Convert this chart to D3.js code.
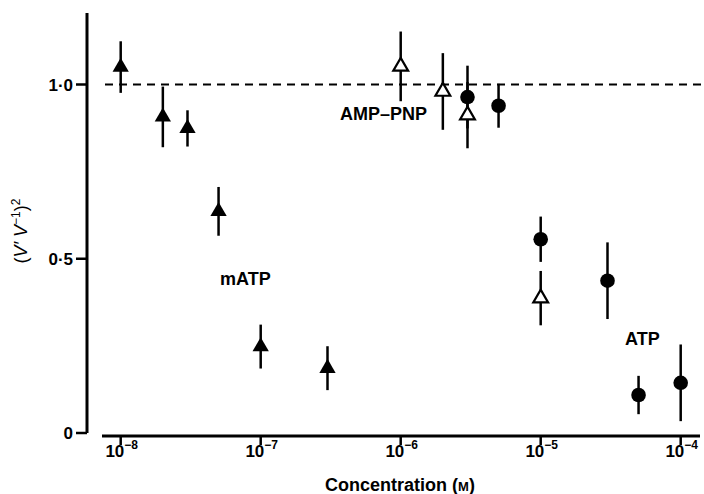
<!DOCTYPE html>
<html>
<head>
<meta charset="utf-8">
<script src="https://cdn.jsdelivr.net/npm/d3@7"></script>
<style>
  body { margin: 0; background: #fff; }
  text { font-family: "Liberation Sans", Arial, sans-serif; fill: #000; }
</style>
</head>
<body>
<div id="chart"></div>
<script>
// mATP (filled triangles)
const mATPConc = [1e-8, 2e-8, 3e-8, 5e-8, 1e-7, 3e-7];
const mATPValue = [1.05, 0.907, 0.874, 0.636, 0.248, 0.186];
const mATPErr = [0.074, 0.087, 0.052, 0.07, 0.063, 0.063];

// AMP-PNP (open triangles)
const ampConc = [1e-6, 2e-6, 3e-6, 1e-5];
const ampValue = [1.052, 0.98, 0.912, 0.387];
const ampErr = [0.1, 0.11, 0.095, 0.078];

// ATP (filled circles)
const atpConc = [3e-6, 5e-6, 1e-5, 3e-5, 5e-5, 1e-4];
const atpValue = [0.964, 0.939, 0.556, 0.437, 0.109, 0.144];
const atpErr = [0.09, 0.063, 0.065, 0.11, 0.055, 0.11];

const xTicks = [1e-8, 1e-7, 1e-6, 1e-5, 1e-4];
const xTickExp = ["−8", "−7", "−6", "−5", "−4"];
const yTicks = [0, 0.5, 1.0];
const yTickLabels = ["0", "0·5", "1·0"];

const width = 704, height = 494;
const svg = d3.select("#chart").append("svg")
  .attr("width", width).attr("height", height);

const x = d3.scaleLog().domain([1e-8, 1e-4]).range([120.7, 680.7]);
const y = d3.scaleLinear().domain([0, 1]).range([433, 84.5]);

// y axis
const yAxisX = 87;
svg.append("line")
  .attr("x1", yAxisX).attr("x2", yAxisX)
  .attr("y1", 13).attr("y2", y(0))
  .attr("stroke", "#000").attr("stroke-width", 3);
yTicks.forEach((t, i) => {
  svg.append("line")
    .attr("x1", yAxisX - 11).attr("x2", yAxisX)
    .attr("y1", y(t)).attr("y2", y(t))
    .attr("stroke", "#000").attr("stroke-width", 2.5);
  svg.append("text")
    .attr("x", yAxisX - 14).attr("y", y(t) + 6)
    .attr("text-anchor", "end")
    .attr("font-size", 17).attr("font-weight", "bold")
    .text(yTickLabels[i]);
});

// x axis
const xAxisY = 436;
svg.append("line")
  .attr("x1", 102).attr("x2", 700)
  .attr("y1", xAxisY).attr("y2", xAxisY)
  .attr("stroke", "#000").attr("stroke-width", 3);
xTicks.forEach((t, i) => {
  svg.append("line")
    .attr("x1", x(t)).attr("x2", x(t))
    .attr("y1", xAxisY).attr("y2", xAxisY + 9)
    .attr("stroke", "#000").attr("stroke-width", 2.5);
  const lab = svg.append("text")
    .attr("x", x(t) + 1).attr("y", xAxisY + 21)
    .attr("text-anchor", "middle")
    .attr("font-size", 17).attr("font-weight", "bold");
  lab.append("tspan").text("10");
  lab.append("tspan").attr("dy", -8).attr("font-size", 12).text(xTickExp[i]);
});

// axis titles
const xt = svg.append("text")
  .attr("x", 400).attr("y", 491)
  .attr("text-anchor", "middle")
  .attr("font-size", 18).attr("font-weight", "bold");
xt.append("tspan").text("Concentration (");
xt.append("tspan").attr("font-size", 13).text("M");
xt.append("tspan").text(")");

const yt = svg.append("text")
  .attr("transform", "translate(27,231) rotate(-90)")
  .attr("text-anchor", "middle")
  .attr("font-size", 18);
yt.append("tspan").text("(");
yt.append("tspan").attr("font-style", "italic").text("V′ V");
yt.append("tspan").attr("dy", -7).attr("font-size", 12).text("−1");
yt.append("tspan").attr("dy", 7).text(")");
yt.append("tspan").attr("dy", -7).attr("font-size", 12).text("2");

// dashed reference line at 1.0
svg.append("line")
  .attr("x1", 105).attr("x2", 704)
  .attr("y1", y(1)).attr("y2", y(1))
  .attr("stroke", "#000").attr("stroke-width", 2)
  .attr("stroke-dasharray", "8,6");

const toRows = (conc, val, err) => conc.map((c, i) => ({ c, v: val[i], e: err[i] }));
const mATP = toRows(mATPConc, mATPValue, mATPErr);
const amp = toRows(ampConc, ampValue, ampErr);
const atp = toRows(atpConc, atpValue, atpErr);

const drawErr = (rows) => {
  svg.append("g").selectAll("line").data(rows).enter().append("line")
    .attr("x1", (d) => x(d.c)).attr("x2", (d) => x(d.c))
    .attr("y1", (d) => y(d.v + d.e)).attr("y2", (d) => y(d.v - d.e))
    .attr("stroke", "#000").attr("stroke-width", 2.5);
};
[mATP, amp, atp].forEach(drawErr);

const tri = d3.symbol().type(d3.symbolTriangle).size(115);

svg.append("g").selectAll("path").data(mATP).enter().append("path")
  .attr("d", tri)
  .attr("transform", (d) => `translate(${x(d.c)},${y(d.v)})`)
  .attr("fill", "#000");

svg.append("g").selectAll("circle").data(atp).enter().append("circle")
  .attr("cx", (d) => x(d.c)).attr("cy", (d) => y(d.v))
  .attr("r", 7.3)
  .attr("fill", "#000");

svg.append("g").selectAll("path").data(amp).enter().append("path")
  .attr("d", d3.symbol().type(d3.symbolTriangle).size(95))
  .attr("transform", (d) => `translate(${x(d.c)},${y(d.v)})`)
  .attr("fill", "#fff").attr("stroke", "#000").attr("stroke-width", 2.2);

// series labels
const label = (txt, lx, ly) => svg.append("text")
  .attr("x", lx).attr("y", ly)
  .attr("font-size", 18).attr("font-weight", "bold")
  .text(txt);
label("mATP", 220, 285);
label("AMP–PNP", 340, 120);
label("ATP", 625, 345);
</script>
</body>
</html>
